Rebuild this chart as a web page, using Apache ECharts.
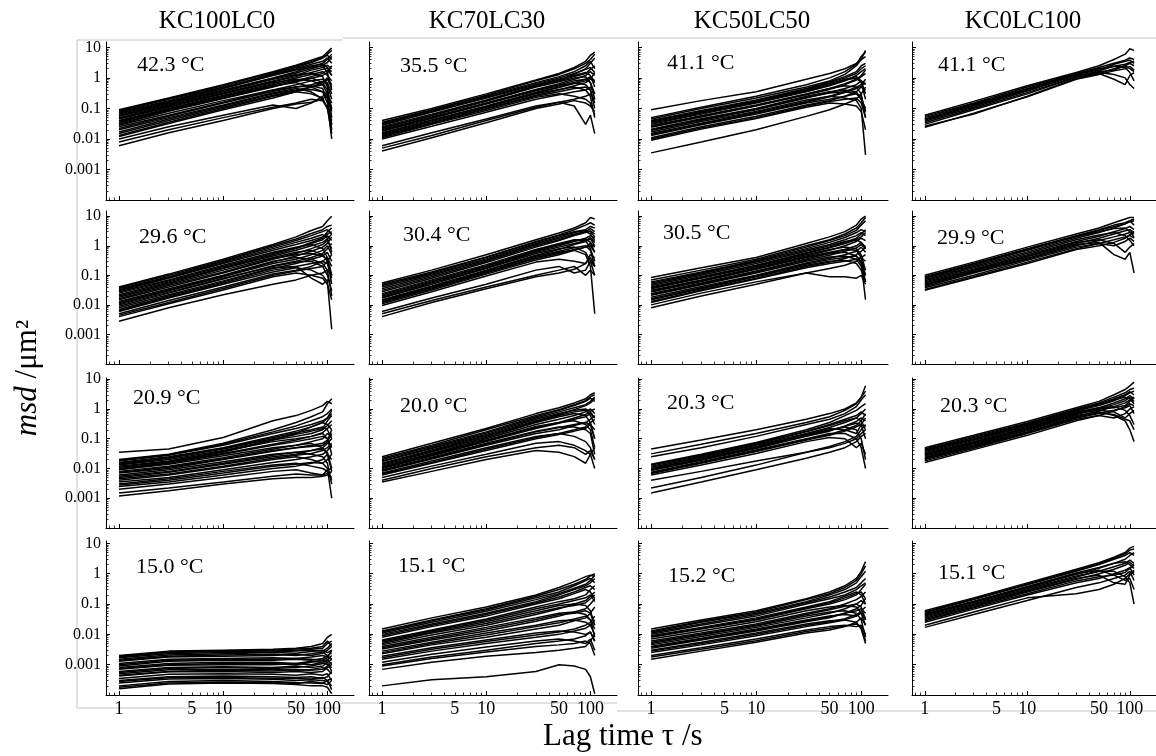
<!DOCTYPE html>
<html><head><meta charset="utf-8">
<script src="https://cdn.jsdelivr.net/npm/echarts@6/dist/echarts.min.js"></script>
<style>html,body{margin:0;padding:0;background:#fff}#c{width:1156px;height:756px}</style>
</head><body><div id="c"></div>
<script>
// ---------------- data ----------------
const tau = [1, 3, 10, 30, 50, 70, 90, 100, 110];
const compositions = ['KC100LC0', 'KC70LC30', 'KC50LC50', 'KC0LC100'];
const temperatures = [
  ['42.3 °C', '35.5 °C', '41.1 °C', '41.1 °C'],
  ['29.6 °C', '30.4 °C', '30.5 °C', '29.9 °C'],
  ['20.9 °C', '20.0 °C', '20.3 °C', '20.3 °C'],
  ['15.0 °C', '15.1 °C', '15.2 °C', '15.1 °C']
];
const xTickValues = [1, 5, 10, 50, 100];
const xTickLabels = ['1', '5', '10', '50', '100'];
const yTickValues = [10, 1, 0.1, 0.01, 0.001];
const yTickLabels = ['10', '1', '0.1', '0.01', '0.001'];

// KC100LC0
const msd_KC100LC0_42_3 = [
  [0.09, 0.22, 0.6, 1.6, 2.6, 3.8, 5, 7, 9.5],
  [0.085, 0.21, 0.55, 1.5, 2.4, 3.4, 4.5, 5.5, 4],
  [0.08, 0.2, 0.5, 1.3, 2.0, 2.8, 3.5, 4.5, 3],
  [0.075, 0.18, 0.48, 1.25, 1.9, 2.5, 2.8, 2.2, 1.2],
  [0.07, 0.17, 0.45, 1.2, 1.8, 2.2, 2.5, 1.5, 0.4],
  [0.065, 0.16, 0.45, 1.4, 2.2, 3.2, 4.5, 6, 8],
  [0.06, 0.15, 0.4, 1.0, 1.6, 2.3, 3, 4, 6],
  [0.058, 0.14, 0.38, 0.95, 1.45, 2.0, 2.6, 3.2, 5],
  [0.055, 0.13, 0.35, 0.9, 1.3, 1.4, 1.1, 0.5, 0.05],
  [0.05, 0.12, 0.32, 0.8, 1.2, 1.8, 2.2, 2.6, 2],
  [0.048, 0.115, 0.31, 0.75, 1.1, 1.5, 1.9, 2.1, 1.6],
  [0.045, 0.11, 0.3, 0.7, 0.9, 0.8, 0.6, 0.3, 0.02],
  [0.04, 0.1, 0.27, 0.65, 1.0, 1.3, 1.6, 1.2, 0.8],
  [0.038, 0.095, 0.25, 0.6, 0.85, 1.0, 0.7, 0.4, 0.08],
  [0.035, 0.09, 0.24, 0.55, 0.7, 0.5, 0.35, 0.15, 0.01],
  [0.032, 0.085, 0.22, 0.52, 0.75, 0.95, 1.2, 1.5, 2.5],
  [0.03, 0.08, 0.21, 0.5, 0.8, 1.1, 1.4, 1.8, 1.2],
  [0.028, 0.07, 0.18, 0.4, 0.5, 0.55, 0.45, 0.2, 0.03],
  [0.025, 0.06, 0.16, 0.4, 0.6, 0.8, 0.9, 0.6, 0.2],
  [0.022, 0.055, 0.15, 0.36, 0.5, 0.6, 0.75, 0.7, 0.3],
  [0.02, 0.05, 0.13, 0.32, 0.45, 0.35, 0.2, 0.1, 0.015],
  [0.017, 0.045, 0.12, 0.3, 0.4, 0.5, 0.6, 0.9, 0.5],
  [0.015, 0.04, 0.11, 0.27, 0.38, 0.42, 0.35, 0.25, 0.1],
  [0.013, 0.035, 0.1, 0.25, 0.35, 0.3, 0.22, 0.1, 0.04],
  [0.012, 0.032, 0.09, 0.22, 0.35, 0.5, 0.7, 1, 0.6],
  [0.01, 0.025, 0.06, 0.13, 0.1, 0.15, 0.25, 0.35, 0.1],
  [0.008, 0.02, 0.05, 0.11, 0.15, 0.2, 0.18, 0.1, 0.03],
  [0.006, 0.016, 0.04, 0.1, 0.14, 0.16, 0.2, 0.3, 0.15]
];
const msd_KC100LC0_29_6 = [
  [0.04, 0.11, 0.35, 1.1, 2, 3.3, 4.5, 7, 10],
  [0.038, 0.1, 0.32, 1.0, 1.7, 2.6, 3.5, 4.5, 5],
  [0.035, 0.09, 0.3, 0.9, 1.5, 2.2, 3, 3.5, 2.5],
  [0.032, 0.085, 0.27, 0.8, 1.3, 1.8, 2.4, 1.8, 0.6],
  [0.03, 0.08, 0.25, 0.7, 1.1, 1.5, 2, 2.5, 3],
  [0.028, 0.07, 0.22, 0.6, 0.9, 1.1, 0.8, 0.4, 0.1],
  [0.025, 0.065, 0.2, 0.55, 0.85, 1.3, 1.8, 3, 4],
  [0.022, 0.06, 0.18, 0.5, 0.8, 1.2, 1.6, 2.2, 1.5],
  [0.02, 0.055, 0.17, 0.45, 0.7, 1.0, 1.3, 1.7, 2.5],
  [0.018, 0.05, 0.15, 0.4, 0.6, 0.7, 0.5, 0.3, 0.05],
  [0.016, 0.045, 0.13, 0.37, 0.5, 0.55, 0.45, 0.35, 0.1],
  [0.015, 0.04, 0.12, 0.35, 0.55, 0.8, 1.1, 1.5, 0.8],
  [0.013, 0.035, 0.1, 0.3, 0.4, 0.35, 0.25, 0.15, 0.02],
  [0.012, 0.032, 0.095, 0.28, 0.45, 0.65, 0.9, 1.2, 2],
  [0.011, 0.03, 0.09, 0.25, 0.35, 0.5, 0.7, 1, 0.5],
  [0.01, 0.027, 0.08, 0.2, 0.28, 0.3, 0.2, 0.1, 0.03],
  [0.009, 0.025, 0.075, 0.21, 0.3, 0.4, 0.55, 0.8, 1.2],
  [0.008, 0.022, 0.065, 0.18, 0.2, 0.08, 0.05, 0.07, 0.06],
  [0.007, 0.02, 0.06, 0.17, 0.25, 0.35, 0.45, 0.6, 0.3],
  [0.0065, 0.018, 0.055, 0.15, 0.2, 0.25, 0.3, 0.25, 0.08],
  [0.006, 0.017, 0.05, 0.13, 0.18, 0.15, 0.1, 0.06, 0.0015],
  [0.005, 0.014, 0.04, 0.11, 0.15, 0.2, 0.3, 0.4, 0.2],
  [0.0045, 0.012, 0.036, 0.1, 0.14, 0.17, 0.2, 0.3, 0.5],
  [0.004, 0.011, 0.032, 0.09, 0.12, 0.1, 0.08, 0.05, 0.015],
  [0.0028, 0.008, 0.022, 0.05, 0.07, 0.1, 0.12, 0.15, 0.1]
];
const msd_KC100LC0_20_9 = [
  [0.035, 0.045, 0.11, 0.4, 0.6, 0.9, 1.3, 1.8, 1.5],
  [0.02, 0.03, 0.07, 0.2, 0.35, 0.55, 0.8, 1.5, 2.2],
  [0.019, 0.029, 0.065, 0.17, 0.27, 0.4, 0.55, 0.7, 1.0],
  [0.018, 0.028, 0.06, 0.15, 0.22, 0.3, 0.4, 0.5, 0.7],
  [0.016, 0.025, 0.05, 0.12, 0.18, 0.25, 0.35, 0.3, 0.2],
  [0.015, 0.023, 0.048, 0.11, 0.16, 0.2, 0.25, 0.2, 0.1],
  [0.014, 0.022, 0.045, 0.1, 0.14, 0.18, 0.22, 0.4, 0.6],
  [0.013, 0.02, 0.04, 0.09, 0.12, 0.15, 0.2, 0.28, 0.4],
  [0.012, 0.018, 0.038, 0.08, 0.1, 0.12, 0.15, 0.1, 0.05],
  [0.011, 0.017, 0.035, 0.09, 0.15, 0.25, 0.35, 0.5, 0.9],
  [0.01, 0.016, 0.032, 0.065, 0.09, 0.12, 0.16, 0.22, 0.3],
  [0.0095, 0.015, 0.03, 0.06, 0.08, 0.1, 0.12, 0.1, 0.03],
  [0.009, 0.014, 0.027, 0.05, 0.06, 0.07, 0.05, 0.03, 0.008],
  [0.008, 0.012, 0.023, 0.045, 0.06, 0.08, 0.1, 0.15, 0.12],
  [0.0075, 0.011, 0.021, 0.04, 0.05, 0.055, 0.06, 0.08, 0.15],
  [0.007, 0.01, 0.02, 0.038, 0.05, 0.06, 0.07, 0.09, 0.2],
  [0.006, 0.009, 0.017, 0.03, 0.035, 0.03, 0.025, 0.015, 0.003],
  [0.0055, 0.008, 0.015, 0.028, 0.035, 0.04, 0.045, 0.035, 0.01],
  [0.005, 0.0075, 0.014, 0.025, 0.03, 0.04, 0.05, 0.07, 0.1],
  [0.0045, 0.0065, 0.012, 0.022, 0.028, 0.032, 0.04, 0.05, 0.07],
  [0.004, 0.006, 0.011, 0.02, 0.025, 0.02, 0.015, 0.01, 0.001],
  [0.0035, 0.005, 0.009, 0.016, 0.02, 0.025, 0.03, 0.04, 0.06],
  [0.003, 0.0045, 0.008, 0.013, 0.015, 0.012, 0.01, 0.008, 0.004],
  [0.0028, 0.004, 0.007, 0.012, 0.014, 0.016, 0.015, 0.02, 0.03],
  [0.0025, 0.0035, 0.006, 0.01, 0.012, 0.015, 0.02, 0.03, 0.02],
  [0.002, 0.003, 0.005, 0.008, 0.009, 0.007, 0.006, 0.009, 0.01],
  [0.0015, 0.0022, 0.0035, 0.0055, 0.0065, 0.006, 0.006, 0.007, 0.005],
  [0.0012, 0.0018, 0.003, 0.0045, 0.005, 0.005, 0.0055, 0.006, 0.008]
];
const msd_KC100LC0_15_0 = [
  [0.002, 0.0028, 0.003, 0.0032, 0.0035, 0.004, 0.005, 0.008, 0.01],
  [0.0019, 0.0026, 0.0029, 0.003, 0.0033, 0.0035, 0.004, 0.006, 0.004],
  [0.0018, 0.0025, 0.0027, 0.0028, 0.003, 0.0032, 0.0035, 0.005, 0.006],
  [0.0017, 0.0023, 0.0025, 0.0026, 0.0028, 0.003, 0.0028, 0.0035, 0.005],
  [0.0015, 0.0021, 0.0023, 0.0025, 0.0024, 0.0027, 0.003, 0.0025, 0.003],
  [0.0014, 0.0019, 0.0021, 0.0022, 0.002, 0.0023, 0.0026, 0.002, 0.0015],
  [0.0013, 0.0018, 0.0019, 0.002, 0.0022, 0.002, 0.0024, 0.003, 0.004],
  [0.0011, 0.0015, 0.0016, 0.0017, 0.0016, 0.0018, 0.002, 0.0018, 0.0015],
  [0.001, 0.0014, 0.0015, 0.0015, 0.0016, 0.0015, 0.0014, 0.0017, 0.003],
  [0.0009, 0.0013, 0.0014, 0.0014, 0.0015, 0.0014, 0.0016, 0.002, 0.0025],
  [0.0008, 0.0011, 0.0012, 0.0012, 0.0011, 0.0013, 0.0012, 0.0015, 0.001],
  [0.00075, 0.001, 0.0011, 0.0011, 0.001, 0.0012, 0.0014, 0.0012, 0.0006],
  [0.0007, 0.00095, 0.001, 0.001, 0.0011, 0.001, 0.0012, 0.001, 0.0008],
  [0.0006, 0.0008, 0.00085, 0.0008, 0.0009, 0.0008, 0.0009, 0.0012, 0.0015],
  [0.00055, 0.00075, 0.0008, 0.00075, 0.0008, 0.0009, 0.0011, 0.0014, 0.002],
  [0.0005, 0.00068, 0.0007, 0.0007, 0.00065, 0.0007, 0.0008, 0.0007, 0.0005],
  [0.00045, 0.0006, 0.00065, 0.00062, 0.0007, 0.00065, 0.0007, 0.0009, 0.0012],
  [0.00042, 0.00058, 0.0006, 0.00055, 0.0006, 0.00055, 0.0006, 0.0008, 0.001],
  [0.00035, 0.00048, 0.0005, 0.00048, 0.00045, 0.0005, 0.00045, 0.0005, 0.0003],
  [0.0003, 0.0004, 0.00042, 0.0004, 0.00038, 0.0004, 0.00035, 0.0004, 0.0006],
  [0.00028, 0.00037, 0.00038, 0.00036, 0.00035, 0.00034, 0.00038, 0.0003, 0.00015],
  [0.00025, 0.00034, 0.00035, 0.00033, 0.0003, 0.00032, 0.0003, 0.00028, 0.0002],
  [0.0002, 0.00028, 0.0003, 0.00028, 0.00026, 0.00025, 0.00024, 0.0003, 0.00035],
  [0.00018, 0.00025, 0.00027, 0.00026, 0.00024, 0.00028, 0.00025, 0.00022, 0.0003],
  [0.00016, 0.00023, 0.00025, 0.00024, 0.00022, 0.0002, 0.0002, 0.00018, 0.00011]
];

// KC70LC30
const msd_KC70LC30_35_5 = [
  [0.04, 0.1, 0.3, 0.85, 1.4, 2.2, 3.5, 5.5, 7],
  [0.035, 0.09, 0.27, 0.8, 1.3, 2, 3, 4, 6],
  [0.032, 0.085, 0.25, 0.7, 1.1, 1.6, 2.5, 3.5, 2],
  [0.03, 0.08, 0.23, 0.65, 1.0, 1.4, 1.9, 2.2, 1.5],
  [0.028, 0.075, 0.22, 0.6, 0.9, 1.2, 1.5, 1.2, 0.5],
  [0.025, 0.065, 0.19, 0.55, 0.85, 1.3, 2, 3, 4.5],
  [0.023, 0.06, 0.18, 0.52, 0.8, 1.1, 1.4, 1.9, 2.5],
  [0.022, 0.058, 0.17, 0.5, 0.75, 1.0, 1.1, 0.7, 0.2],
  [0.02, 0.052, 0.15, 0.42, 0.65, 0.9, 1.2, 1.6, 1.2],
  [0.019, 0.05, 0.145, 0.4, 0.6, 0.8, 0.9, 0.7, 0.3],
  [0.018, 0.047, 0.14, 0.38, 0.55, 0.7, 0.6, 0.4, 0.1],
  [0.016, 0.042, 0.12, 0.34, 0.5, 0.7, 0.9, 1.1, 0.8],
  [0.015, 0.04, 0.115, 0.32, 0.48, 0.65, 0.8, 1.0, 0.7],
  [0.014, 0.037, 0.11, 0.3, 0.42, 0.5, 0.4, 0.25, 0.05],
  [0.013, 0.034, 0.1, 0.27, 0.4, 0.55, 0.7, 0.9, 1.5],
  [0.012, 0.032, 0.095, 0.25, 0.35, 0.45, 0.5, 0.4, 0.15],
  [0.011, 0.03, 0.085, 0.23, 0.3, 0.25, 0.2, 0.15, 0.06],
  [0.01, 0.026, 0.075, 0.2, 0.28, 0.35, 0.4, 0.5, 0.3],
  [0.006, 0.016, 0.045, 0.12, 0.16, 0.12, 0.03, 0.06, 0.015],
  [0.005, 0.013, 0.04, 0.11, 0.16, 0.2, 0.25, 0.3, 0.2],
  [0.004, 0.011, 0.034, 0.1, 0.14, 0.18, 0.15, 0.12, 0.08]
];
const msd_KC70LC30_30_4 = [
  [0.055, 0.15, 0.5, 1.6, 2.7, 4, 6, 9, 8],
  [0.05, 0.13, 0.42, 1.4, 2.3, 3.5, 5, 6, 5],
  [0.045, 0.12, 0.4, 1.3, 2.2, 3, 3.5, 4.5, 4],
  [0.04, 0.11, 0.36, 1.2, 2.0, 2.8, 3.3, 3.0, 2.0],
  [0.035, 0.1, 0.33, 1.1, 1.8, 2.5, 3, 2.5, 1.5],
  [0.031, 0.09, 0.3, 1.0, 1.6, 2.3, 3.0, 3.8, 3],
  [0.028, 0.08, 0.27, 0.9, 1.5, 2.2, 2.8, 3.2, 2.5],
  [0.024, 0.07, 0.23, 0.75, 1.2, 1.6, 1.5, 0.8, 0.3],
  [0.022, 0.065, 0.21, 0.7, 1.1, 1.5, 1.7, 1.3, 0.6],
  [0.02, 0.06, 0.2, 0.65, 1.0, 1.4, 1.8, 2.2, 1.8],
  [0.018, 0.055, 0.18, 0.6, 0.9, 1.2, 1.5, 1.9, 1.3],
  [0.017, 0.05, 0.17, 0.55, 0.8, 0.9, 0.6, 0.3, 0.1],
  [0.015, 0.044, 0.15, 0.48, 0.75, 1.1, 1.4, 1.7, 1.0],
  [0.014, 0.041, 0.14, 0.44, 0.65, 0.85, 1.0, 0.7, 0.2],
  [0.013, 0.038, 0.13, 0.4, 0.6, 0.7, 0.5, 0.2, 0.005],
  [0.012, 0.035, 0.12, 0.37, 0.55, 0.75, 0.9, 1.0, 0.6],
  [0.011, 0.032, 0.11, 0.33, 0.5, 0.7, 0.9, 1.2, 0.9],
  [0.0095, 0.028, 0.095, 0.28, 0.35, 0.3, 0.25, 0.4, 0.2],
  [0.006, 0.017, 0.05, 0.15, 0.2, 0.12, 0.15, 0.3, 0.2],
  [0.005, 0.014, 0.04, 0.1, 0.15, 0.2, 0.1, 0.15, 0.1],
  [0.004, 0.012, 0.035, 0.09, 0.12, 0.16, 0.25, 0.5, 0.4]
];
const msd_KC70LC30_20_0 = [
  [0.025, 0.07, 0.22, 0.7, 1.1, 1.6, 2.2, 3, 3.5],
  [0.022, 0.06, 0.2, 0.6, 0.95, 1.4, 1.9, 2.6, 3],
  [0.02, 0.055, 0.17, 0.55, 0.9, 1.3, 1.8, 2.3, 1.8],
  [0.018, 0.05, 0.155, 0.5, 0.8, 1.1, 1.4, 1.8, 2.5],
  [0.017, 0.047, 0.14, 0.45, 0.7, 0.9, 1.0, 0.8, 0.5],
  [0.015, 0.042, 0.13, 0.4, 0.65, 0.95, 1.3, 1.6, 2.2],
  [0.014, 0.039, 0.12, 0.38, 0.6, 0.8, 0.9, 0.6, 0.3],
  [0.013, 0.036, 0.11, 0.35, 0.55, 0.7, 0.6, 0.35, 0.1],
  [0.012, 0.032, 0.1, 0.3, 0.45, 0.6, 0.8, 1.0, 0.7],
  [0.011, 0.03, 0.09, 0.26, 0.35, 0.4, 0.3, 0.2, 0.05],
  [0.0105, 0.028, 0.085, 0.24, 0.35, 0.5, 0.65, 0.85, 1.0],
  [0.01, 0.027, 0.08, 0.22, 0.33, 0.45, 0.55, 0.7, 0.5],
  [0.009, 0.024, 0.07, 0.18, 0.25, 0.25, 0.2, 0.15, 0.03],
  [0.0085, 0.022, 0.065, 0.17, 0.24, 0.3, 0.35, 0.3, 0.1],
  [0.008, 0.021, 0.06, 0.15, 0.2, 0.28, 0.35, 0.45, 0.6],
  [0.007, 0.018, 0.05, 0.12, 0.15, 0.12, 0.08, 0.05, 0.02],
  [0.0065, 0.016, 0.045, 0.11, 0.15, 0.2, 0.25, 0.35, 0.45],
  [0.006, 0.015, 0.04, 0.1, 0.14, 0.18, 0.22, 0.3, 0.2],
  [0.005, 0.012, 0.03, 0.07, 0.08, 0.06, 0.04, 0.03, 0.01],
  [0.004, 0.01, 0.025, 0.05, 0.06, 0.05, 0.03, 0.04, 0.02],
  [0.0035, 0.008, 0.02, 0.04, 0.035, 0.025, 0.015, 0.03, 0.05]
];
const msd_KC70LC30_15_1 = [
  [0.015, 0.035, 0.08, 0.2, 0.35, 0.55, 0.8, 0.9, 0.8],
  [0.013, 0.03, 0.07, 0.18, 0.3, 0.45, 0.65, 0.85, 1.0],
  [0.012, 0.028, 0.065, 0.16, 0.25, 0.4, 0.6, 0.7, 0.5],
  [0.011, 0.025, 0.058, 0.14, 0.22, 0.33, 0.45, 0.6, 0.9],
  [0.01, 0.022, 0.05, 0.12, 0.2, 0.3, 0.4, 0.5, 0.7],
  [0.009, 0.02, 0.045, 0.11, 0.17, 0.25, 0.35, 0.4, 0.3],
  [0.008, 0.018, 0.04, 0.1, 0.15, 0.22, 0.3, 0.25, 0.15],
  [0.0065, 0.014, 0.032, 0.08, 0.12, 0.15, 0.2, 0.3, 0.4],
  [0.006, 0.013, 0.029, 0.07, 0.1, 0.13, 0.16, 0.2, 0.12],
  [0.0055, 0.012, 0.026, 0.06, 0.09, 0.1, 0.09, 0.06, 0.02],
  [0.005, 0.011, 0.023, 0.052, 0.075, 0.09, 0.11, 0.15, 0.2],
  [0.0045, 0.0095, 0.02, 0.045, 0.07, 0.1, 0.13, 0.18, 0.25],
  [0.004, 0.008, 0.017, 0.035, 0.05, 0.055, 0.045, 0.03, 0.008],
  [0.0036, 0.0072, 0.015, 0.031, 0.045, 0.05, 0.06, 0.05, 0.02],
  [0.0033, 0.0065, 0.013, 0.027, 0.04, 0.055, 0.07, 0.1, 0.15],
  [0.0028, 0.0055, 0.011, 0.02, 0.028, 0.03, 0.025, 0.02, 0.01],
  [0.0025, 0.005, 0.0095, 0.018, 0.024, 0.032, 0.04, 0.03, 0.015],
  [0.0023, 0.0045, 0.008, 0.015, 0.02, 0.028, 0.035, 0.05, 0.08],
  [0.0019, 0.0036, 0.0065, 0.011, 0.013, 0.012, 0.01, 0.012, 0.006],
  [0.0017, 0.0032, 0.0058, 0.0095, 0.012, 0.015, 0.02, 0.025, 0.04],
  [0.0015, 0.0028, 0.005, 0.008, 0.01, 0.013, 0.016, 0.02, 0.03],
  [0.0012, 0.0022, 0.0038, 0.006, 0.007, 0.006, 0.005, 0.007, 0.003],
  [0.001, 0.0018, 0.003, 0.005, 0.006, 0.007, 0.009, 0.012, 0.006],
  [0.0009, 0.0016, 0.0026, 0.004, 0.0045, 0.005, 0.006, 0.005, 0.002],
  [0.0007, 0.0012, 0.0019, 0.0025, 0.003, 0.0035, 0.004, 0.006, 0.01],
  [0.0002, 0.00032, 0.0004, 0.0006, 0.001, 0.0009, 0.0007, 0.0004, 0.00011]
];

// KC50LC50
const msd_KC50LC50_41_1 = [
  [0.09, 0.18, 0.35, 0.9, 1.4, 2, 3, 4, 5],
  [0.05, 0.11, 0.25, 0.6, 1.0, 1.6, 2.8, 5, 7],
  [0.045, 0.1, 0.22, 0.5, 0.8, 1.3, 2.5, 4, 8],
  [0.04, 0.085, 0.19, 0.45, 0.75, 1.1, 1.6, 2.5, 3],
  [0.038, 0.08, 0.18, 0.42, 0.7, 1.0, 1.4, 2.0, 2.5],
  [0.035, 0.075, 0.17, 0.4, 0.65, 0.9, 1.1, 0.8, 0.3],
  [0.032, 0.07, 0.16, 0.37, 0.6, 0.85, 1.0, 0.7, 0.2],
  [0.03, 0.065, 0.15, 0.35, 0.55, 0.8, 1.2, 1.6, 2],
  [0.027, 0.058, 0.13, 0.3, 0.45, 0.55, 0.5, 0.3, 0.05],
  [0.026, 0.056, 0.125, 0.29, 0.45, 0.65, 0.9, 1.2, 1.8],
  [0.024, 0.052, 0.12, 0.28, 0.42, 0.6, 0.85, 1.1, 1.4],
  [0.021, 0.046, 0.1, 0.25, 0.35, 0.4, 0.35, 0.2, 0.1],
  [0.02, 0.043, 0.095, 0.23, 0.32, 0.35, 0.3, 0.25, 0.08],
  [0.019, 0.041, 0.09, 0.22, 0.33, 0.45, 0.6, 0.8, 0.6],
  [0.017, 0.037, 0.08, 0.19, 0.25, 0.22, 0.18, 0.1, 0.003],
  [0.015, 0.033, 0.075, 0.17, 0.25, 0.35, 0.5, 0.6, 0.9],
  [0.014, 0.031, 0.07, 0.16, 0.24, 0.33, 0.45, 0.55, 0.7],
  [0.013, 0.029, 0.065, 0.15, 0.2, 0.25, 0.3, 0.2, 0.08],
  [0.011, 0.025, 0.055, 0.13, 0.18, 0.25, 0.35, 0.5, 0.4],
  [0.01, 0.023, 0.05, 0.12, 0.17, 0.2, 0.22, 0.15, 0.05],
  [0.009, 0.021, 0.047, 0.11, 0.15, 0.14, 0.12, 0.08, 0.02],
  [0.0035, 0.008, 0.02, 0.055, 0.09, 0.14, 0.2, 0.3, 0.5]
];
const msd_KC50LC50_30_5 = [
  [0.085, 0.18, 0.4, 1.2, 2, 3, 5, 8, 10],
  [0.07, 0.15, 0.35, 1.0, 1.6, 2.5, 4, 6, 9],
  [0.06, 0.13, 0.32, 0.9, 1.5, 2.2, 3.3, 5, 7],
  [0.055, 0.12, 0.3, 0.8, 1.3, 1.9, 2.8, 3.5, 3],
  [0.05, 0.11, 0.28, 0.72, 1.1, 1.6, 2.2, 2.8, 2.2],
  [0.045, 0.1, 0.25, 0.65, 1.0, 1.4, 1.6, 1.3, 0.8],
  [0.04, 0.09, 0.22, 0.58, 0.9, 1.3, 1.8, 2.5, 3.5],
  [0.038, 0.085, 0.21, 0.55, 0.85, 1.2, 1.6, 2.0, 2.8],
  [0.035, 0.08, 0.2, 0.5, 0.75, 0.9, 0.8, 0.5, 0.15],
  [0.031, 0.07, 0.18, 0.45, 0.7, 1.0, 1.4, 1.8, 1.5],
  [0.029, 0.066, 0.17, 0.42, 0.6, 0.75, 0.7, 0.4, 0.1],
  [0.027, 0.062, 0.16, 0.4, 0.55, 0.6, 0.45, 0.25, 0.015],
  [0.024, 0.055, 0.14, 0.36, 0.55, 0.75, 1.0, 1.3, 0.9],
  [0.022, 0.051, 0.13, 0.33, 0.48, 0.65, 0.85, 1.1, 0.8],
  [0.021, 0.048, 0.12, 0.3, 0.42, 0.45, 0.35, 0.2, 0.1],
  [0.018, 0.042, 0.1, 0.26, 0.38, 0.5, 0.65, 0.9, 0.6],
  [0.016, 0.038, 0.095, 0.24, 0.34, 0.4, 0.45, 0.3, 0.06],
  [0.015, 0.035, 0.09, 0.22, 0.3, 0.32, 0.25, 0.15, 0.06],
  [0.013, 0.032, 0.08, 0.2, 0.28, 0.37, 0.5, 0.65, 0.9],
  [0.012, 0.03, 0.075, 0.18, 0.25, 0.3, 0.35, 0.4, 0.3],
  [0.01, 0.025, 0.06, 0.12, 0.09, 0.09, 0.08, 0.1, 0.05],
  [0.008, 0.02, 0.05, 0.12, 0.17, 0.22, 0.3, 0.4, 0.5]
];
const msd_KC50LC50_20_3 = [
  [0.045, 0.09, 0.2, 0.45, 0.7, 1.0, 1.6, 2.5, 6],
  [0.031, 0.065, 0.15, 0.35, 0.55, 0.9, 1.5, 2.5, 4],
  [0.025, 0.05, 0.12, 0.3, 0.45, 0.7, 1.2, 2, 3],
  [0.014, 0.03, 0.075, 0.2, 0.35, 0.6, 0.9, 1.2, 1.5],
  [0.013, 0.028, 0.07, 0.18, 0.3, 0.45, 0.6, 0.8, 0.6],
  [0.012, 0.026, 0.065, 0.17, 0.28, 0.4, 0.5, 0.4, 0.2],
  [0.011, 0.024, 0.06, 0.15, 0.24, 0.35, 0.5, 0.7, 1],
  [0.01, 0.022, 0.055, 0.14, 0.22, 0.2, 0.15, 0.3, 0.25],
  [0.0095, 0.021, 0.052, 0.13, 0.2, 0.25, 0.2, 0.1, 0.02],
  [0.009, 0.02, 0.05, 0.125, 0.19, 0.26, 0.33, 0.3, 0.1],
  [0.0085, 0.019, 0.047, 0.12, 0.18, 0.27, 0.38, 0.5, 0.4],
  [0.0075, 0.017, 0.042, 0.1, 0.15, 0.15, 0.1, 0.05, 0.01],
  [0.007, 0.016, 0.04, 0.095, 0.14, 0.2, 0.28, 0.4, 0.7],
  [0.0068, 0.015, 0.037, 0.09, 0.13, 0.18, 0.25, 0.3, 0.5],
  [0.006, 0.013, 0.032, 0.08, 0.11, 0.1, 0.05, 0.07, 0.03],
  [0.004, 0.008, 0.018, 0.035, 0.05, 0.07, 0.1, 0.15, 0.2],
  [0.0022, 0.005, 0.013, 0.035, 0.055, 0.08, 0.12, 0.2, 0.3],
  [0.0015, 0.0035, 0.009, 0.022, 0.035, 0.05, 0.08, 0.12, 0.15]
];
const msd_KC50LC50_15_2 = [
  [0.015, 0.03, 0.06, 0.15, 0.25, 0.4, 0.7, 1.2, 2.5],
  [0.013, 0.027, 0.055, 0.14, 0.22, 0.35, 0.6, 1, 1.8],
  [0.012, 0.025, 0.05, 0.12, 0.2, 0.3, 0.5, 0.8, 1.2],
  [0.011, 0.022, 0.045, 0.11, 0.17, 0.25, 0.35, 0.5, 0.7],
  [0.01, 0.02, 0.04, 0.1, 0.15, 0.2, 0.3, 0.4, 0.5],
  [0.009, 0.017, 0.035, 0.08, 0.12, 0.18, 0.25, 0.2, 0.1],
  [0.0085, 0.016, 0.032, 0.075, 0.11, 0.16, 0.22, 0.25, 0.15],
  [0.008, 0.015, 0.03, 0.07, 0.1, 0.14, 0.2, 0.3, 0.45],
  [0.007, 0.013, 0.026, 0.06, 0.08, 0.09, 0.08, 0.05, 0.02],
  [0.006, 0.011, 0.022, 0.05, 0.07, 0.1, 0.14, 0.18, 0.25],
  [0.0055, 0.01, 0.02, 0.045, 0.065, 0.085, 0.1, 0.08, 0.03],
  [0.005, 0.0095, 0.019, 0.04, 0.055, 0.06, 0.05, 0.03, 0.008],
  [0.0045, 0.0085, 0.017, 0.035, 0.05, 0.07, 0.1, 0.13, 0.1],
  [0.004, 0.0075, 0.015, 0.03, 0.04, 0.045, 0.04, 0.05, 0.03],
  [0.0038, 0.007, 0.014, 0.028, 0.038, 0.05, 0.06, 0.07, 0.05],
  [0.0035, 0.0065, 0.013, 0.026, 0.035, 0.05, 0.07, 0.09, 0.15],
  [0.003, 0.0055, 0.011, 0.022, 0.028, 0.03, 0.025, 0.015, 0.005],
  [0.0028, 0.005, 0.01, 0.02, 0.026, 0.033, 0.045, 0.055, 0.035],
  [0.0025, 0.0045, 0.009, 0.018, 0.024, 0.03, 0.04, 0.06, 0.08],
  [0.002, 0.0036, 0.007, 0.014, 0.018, 0.02, 0.018, 0.02, 0.01],
  [0.0018, 0.0032, 0.0062, 0.0125, 0.016, 0.019, 0.022, 0.018, 0.006],
  [0.0015, 0.0028, 0.0055, 0.011, 0.014, 0.018, 0.025, 0.035, 0.02]
];

// KC0LC100
const msd_KC0LC100_41_1 = [
  [0.06, 0.17, 0.55, 1.5, 2.5, 4, 6, 9, 8],
  [0.055, 0.15, 0.5, 1.4, 2.2, 3, 3.8, 4.5, 4],
  [0.05, 0.14, 0.45, 1.35, 2.0, 2.4, 2.2, 1.5, 0.8],
  [0.045, 0.13, 0.42, 1.3, 1.8, 2.8, 3.5, 3.8, 3],
  [0.042, 0.12, 0.4, 1.25, 1.4, 0.9, 0.6, 1.2, 1.5],
  [0.038, 0.11, 0.37, 1.2, 1.6, 1.8, 2.5, 2, 1.6],
  [0.034, 0.1, 0.33, 1.1, 1.7, 2.4, 2.8, 3.2, 3.5],
  [0.03, 0.09, 0.3, 1.05, 1.5, 1.3, 1.0, 0.6, 0.45],
  [0.026, 0.065, 0.25, 0.95, 1.4, 2.0, 2.5, 3, 2.5],
  [0.024, 0.07, 0.24, 0.9, 1.3, 1.7, 2.0, 2.4, 1.8]
];
const msd_KC0LC100_29_9 = [
  [0.1, 0.28, 0.9, 2.5, 4, 6, 8, 9, 9],
  [0.09, 0.25, 0.8, 2.2, 3.5, 5, 6, 7, 5],
  [0.085, 0.24, 0.75, 2.1, 3.3, 4.5, 5.5, 6.5, 7],
  [0.08, 0.22, 0.7, 2.0, 3, 3.8, 4, 3, 2],
  [0.072, 0.2, 0.62, 1.8, 2.8, 4, 5.5, 7, 8],
  [0.066, 0.18, 0.56, 1.6, 2.3, 2.8, 2.2, 1.5, 1],
  [0.06, 0.16, 0.5, 1.4, 2.1, 3, 3.8, 4.5, 3.5],
  [0.055, 0.15, 0.45, 1.3, 1.6, 1.2, 0.6, 0.9, 1.2],
  [0.05, 0.14, 0.42, 1.2, 1.8, 2.5, 3.2, 3.5, 2.8],
  [0.046, 0.13, 0.38, 1.1, 1.3, 0.5, 0.35, 0.6, 0.12],
  [0.042, 0.12, 0.35, 1.0, 1.5, 2.0, 2.5, 2.8, 3],
  [0.038, 0.1, 0.32, 0.9, 1.2, 1.0, 1.4, 1.8, 1.4],
  [0.033, 0.09, 0.28, 0.8, 1.2, 1.6, 2.0, 2.2, 1.8],
  [0.031, 0.085, 0.25, 0.75, 1.0, 1.3, 1.8, 2.4, 2.6]
];
const msd_KC0LC100_20_3 = [
  [0.05, 0.13, 0.38, 1.1, 1.8, 3, 4.5, 6, 8],
  [0.045, 0.12, 0.34, 1.0, 1.6, 2.5, 3.5, 4.5, 5],
  [0.042, 0.11, 0.32, 0.95, 1.5, 2.2, 3, 3.8, 3],
  [0.04, 0.1, 0.3, 0.9, 1.4, 2.0, 2.5, 2.2, 1.5],
  [0.037, 0.095, 0.28, 0.85, 1.3, 1.9, 2.8, 3.5, 4],
  [0.034, 0.088, 0.26, 0.8, 1.1, 1.2, 0.9, 0.6, 0.3],
  [0.031, 0.08, 0.24, 0.75, 1.1, 1.6, 2.2, 2.8, 2.2],
  [0.03, 0.078, 0.23, 0.72, 1.0, 1.1, 1.3, 1.8, 2.4],
  [0.028, 0.073, 0.22, 0.7, 0.9, 0.8, 0.5, 0.7, 0.9],
  [0.026, 0.068, 0.2, 0.65, 1.0, 1.4, 1.9, 2.4, 1.8],
  [0.024, 0.063, 0.19, 0.6, 0.8, 0.6, 0.4, 0.2, 0.08],
  [0.022, 0.058, 0.17, 0.55, 0.85, 1.2, 1.6, 2, 2.5],
  [0.021, 0.055, 0.165, 0.52, 0.75, 0.65, 0.45, 0.4, 0.2],
  [0.02, 0.053, 0.16, 0.5, 0.7, 0.9, 1.1, 1.3, 0.7],
  [0.018, 0.048, 0.15, 0.45, 0.6, 0.5, 0.7, 1.0, 1.2],
  [0.016, 0.043, 0.13, 0.4, 0.6, 0.85, 1.2, 1.5, 1.3]
];
const msd_KC0LC100_15_1 = [
  [0.06, 0.16, 0.5, 1.4, 2.3, 3.5, 5, 7, 8],
  [0.055, 0.15, 0.46, 1.3, 2.1, 3.2, 4.5, 6, 6.5],
  [0.052, 0.14, 0.43, 1.2, 2.0, 3, 4, 5, 4],
  [0.047, 0.125, 0.38, 1.05, 1.6, 2.2, 2.5, 2, 1.5],
  [0.045, 0.12, 0.36, 1.0, 1.3, 0.9, 0.6, 0.7, 0.3],
  [0.043, 0.115, 0.35, 0.95, 1.5, 2.2, 3, 4, 5],
  [0.04, 0.105, 0.32, 0.85, 1.2, 1.2, 0.8, 0.5, 0.1],
  [0.037, 0.097, 0.29, 0.78, 1.2, 1.7, 2.2, 2.8, 2.2],
  [0.034, 0.09, 0.27, 0.7, 0.9, 0.5, 0.45, 0.9, 1.2],
  [0.031, 0.082, 0.25, 0.65, 1.0, 1.4, 1.9, 2.4, 1.8],
  [0.028, 0.075, 0.22, 0.58, 0.8, 0.9, 1.1, 1.5, 2],
  [0.025, 0.068, 0.2, 0.5, 0.7, 1.0, 1.3, 1.6, 0.9],
  [0.02, 0.055, 0.16, 0.22, 0.3, 0.45, 0.7, 1.0, 1.3],
  [0.017, 0.045, 0.13, 0.35, 0.5, 0.7, 0.9, 1.2, 0.6]
];

const panels = [
  [msd_KC100LC0_42_3, msd_KC70LC30_35_5, msd_KC50LC50_41_1, msd_KC0LC100_41_1],
  [msd_KC100LC0_29_6, msd_KC70LC30_30_4, msd_KC50LC50_30_5, msd_KC0LC100_29_9],
  [msd_KC100LC0_20_9, msd_KC70LC30_20_0, msd_KC50LC50_20_3, msd_KC0LC100_20_3],
  [msd_KC100LC0_15_0, msd_KC70LC30_15_1, msd_KC50LC50_15_2, msd_KC0LC100_15_1]
];

// ---------------- layout ----------------
const colLeft = [106, 369, 638, 912];
const colWidth = [248, 248, 250, 246];
const rowTop = [42, 211, 378, 541];
const rowHeight = [158, 153, 150, 154];
const rowYMax = [15, 15, 11, 12];
const xMin = 0.75, xMax = 180, yMin = 0.0001;
const titleX = [217, 487, 752, 1023];
const tempPos = [
  [[137, 65], [400, 66], [667, 63], [938, 65]],
  [[139, 237], [403, 235], [663, 233], [937, 238]],
  [[133, 398], [400, 406], [667, 403], [940, 406]],
  [[136, 567], [398, 566], [668, 576], [938, 573]]
];
const serif = '"Liberation Serif", "Times New Roman", serif';

const xMinor = [];
[0.1, 1, 10].forEach(d => { for (let m = 2; m <= 9; m++) { const v = m * d; if (v >= xMin && v <= xMax) xMinor.push(v); } });
const yMinor = [];
[0.0001, 0.001, 0.01, 0.1, 1, 10].forEach(d => { for (let m = 2; m <= 9; m++) { const v = m * d; if (v <= 15) yMinor.push(v); } });
const xMajor = [1, 10, 100];
const yMajor = [0.0001, 0.001, 0.01, 0.1, 1, 10];

function lookup(vals, labels, v) {
  const i = vals.findIndex(t => Math.abs(Math.log10(t) - Math.log10(v)) < 1e-6);
  return i >= 0 ? labels[i] : '';
}

const grid = [], xAxis = [], yAxis = [], series = [];
for (let r = 0; r < 4; r++) {
  for (let c = 0; c < 4; c++) {
    const g = grid.length;
    grid.push({ left: colLeft[c], top: rowTop[r], width: colWidth[c], height: rowHeight[r] });
    const lineStyle = { color: '#000', width: 1 };
    xAxis.push({
      type: 'log', gridIndex: g, position: 'bottom', min: xMin, max: xMax,
      axisLine: { show: true, onZero: false, lineStyle },
      axisTick: { show: true, inside: true, length: 4, customValues: xMajor, lineStyle },
      axisLabel: { show: r === 3, customValues: xTickValues, margin: 5, color: '#000', fontFamily: serif, fontSize: 18,
        formatter: v => lookup(xTickValues, xTickLabels, v) },
      splitLine: { show: false }
    });
    xAxis.push({
      type: 'log', gridIndex: g, position: 'bottom', min: xMin, max: xMax,
      axisLine: { show: false },
      axisTick: { show: true, inside: true, length: 2.5, customValues: xMinor, lineStyle: { color: '#000', width: 0.8 } },
      axisLabel: { show: false }, splitLine: { show: false }
    });
    yAxis.push({
      type: 'log', gridIndex: g, position: 'left', min: yMin, max: rowYMax[r],
      axisLine: { show: true, onZero: false, lineStyle },
      axisTick: { show: true, inside: true, length: 4, customValues: yMajor, lineStyle },
      axisLabel: { show: c === 0, customValues: yTickValues, margin: 5, color: '#000', fontFamily: serif, fontSize: 16,
        formatter: v => lookup(yTickValues, yTickLabels, v) },
      splitLine: { show: false }
    });
    yAxis.push({
      type: 'log', gridIndex: g, position: 'left', min: yMin, max: rowYMax[r],
      axisLine: { show: false },
      axisTick: { show: true, inside: true, length: 2.5, customValues: yMinor, lineStyle: { color: '#000', width: 0.8 } },
      axisLabel: { show: false }, splitLine: { show: false }
    });
    panels[r][c].forEach(line => {
      series.push({
        type: 'line', xAxisIndex: 2 * g, yAxisIndex: 2 * g,
        data: tau.map((t, i) => [t, line[i]]),
        showSymbol: false, symbol: 'none', smooth: false,
        lineStyle: { color: '#000', width: 1.5 },
        silent: true
      });
    });
  }
}

const graphic = [];
const gray = { stroke: '#c4c4c4', lineWidth: 1 };
[[77, 40, 343, 40], [343, 38, 1156, 38], [77, 40, 77, 708], [77, 708, 340, 708], [340, 703, 617, 703], [617, 711, 1156, 711]]
  .forEach(s => graphic.push({ type: 'line', shape: { x1: s[0], y1: s[1], x2: s[2], y2: s[3] }, style: gray, silent: true }));
compositions.forEach((name, c) => graphic.push({
  type: 'text', x: titleX[c], y: 21,
  style: { text: name, fontFamily: serif, fontSize: 25, fill: '#000', align: 'center', verticalAlign: 'middle' }
}));
for (let r = 0; r < 4; r++) for (let c = 0; c < 4; c++) {
  graphic.push({ type: 'text', x: tempPos[r][c][0], y: tempPos[r][c][1],
    style: { text: temperatures[r][c], fontFamily: serif, fontSize: 22, fill: '#000', align: 'left', verticalAlign: 'middle' } });
}
graphic.push({ type: 'text', x: 28, y: 378, rotation: Math.PI / 2,
  style: { text: '{i|msd} /μm²', fontFamily: serif, fontSize: 31, fill: '#000', align: 'center', verticalAlign: 'middle',
    rich: { i: { fontStyle: 'italic', fontFamily: serif, fontSize: 31, fill: '#000' } } } });
graphic.push({ type: 'text', x: 543, y: 737,
  style: { text: 'Lag time τ /s', fontFamily: serif, fontSize: 31, fill: '#000', align: 'left', verticalAlign: 'middle' } });

const chart = echarts.init(document.getElementById('c'), null, { renderer: 'canvas' });
chart.setOption({ animation: false, backgroundColor: '#fff', grid, xAxis, yAxis, series, graphic });
</script></body></html>
